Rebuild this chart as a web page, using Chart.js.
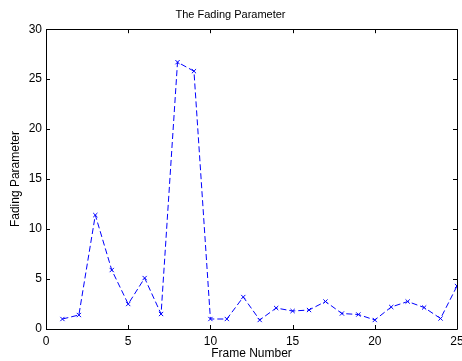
<!DOCTYPE html>
<html>
<head>
<meta charset="utf-8">
<script src="https://cdn.jsdelivr.net/npm/chart.js@4/dist/chart.umd.min.js"></script>
<style>
html,body{margin:0;padding:0;background:#fff;}
#wrap{width:462px;height:361px;}
</style>
</head>
<body>
<div id="wrap"><canvas id="c" width="462" height="361"></canvas></div>
<script>
const frameNumbers = [1,2,3,4,5,6,7,8,9,10,11,12,13,14,15,16,17,18,19,20,21,22,23,24,25];
const fadingValues = [1.0,1.4,11.4,5.9,2.5,5.1,1.5,26.7,25.8,1.0,1.0,3.2,0.9,2.1,1.8,1.9,2.75,1.55,1.45,0.9,2.2,2.75,2.15,1.05,4.3];
const xTicks = [0,5,10,15,20,25];
const yTicks = [0,5,10,15,20,25,30];

const FONT = "'Liberation Sans', Arial, sans-serif";

const boxTicks = {
  id: 'boxTicks',
  afterDraw(chart) {
    const ctx = chart.ctx, a = chart.chartArea;
    const xs = chart.scales.x, ys = chart.scales.y;
    ctx.save();
    ctx.strokeStyle = '#000';
    ctx.lineWidth = 1;
    ctx.beginPath();
    ctx.rect(Math.round(a.left)+0.5, Math.round(a.top)+0.5, Math.round(a.right-a.left), Math.round(a.bottom-a.top));
    ctx.stroke();
    const L = 4;
    ctx.beginPath();
    xTicks.forEach(v => {
      const px = Math.round(xs.getPixelForValue(v)) + 0.5;
      ctx.moveTo(px, a.bottom); ctx.lineTo(px, a.bottom - L);
      ctx.moveTo(px, a.top); ctx.lineTo(px, a.top + L);
    });
    yTicks.forEach(v => {
      const py = Math.round(ys.getPixelForValue(v)) + 0.5;
      ctx.moveTo(a.left, py); ctx.lineTo(a.left + L, py);
      ctx.moveTo(a.right, py); ctx.lineTo(a.right - L, py);
    });
    ctx.stroke();
    ctx.restore();
  }
};

new Chart(document.getElementById('c'), {
  type: 'line',
  data: {
    datasets: [{
      data: frameNumbers.map((x, i) => ({x: x, y: fadingValues[i]})),
      borderColor: '#0000ff',
      backgroundColor: '#0000ff',
      borderWidth: 1,
      borderDash: [6, 3],
      pointStyle: 'crossRot',
      pointRadius: 3,
      pointBorderColor: '#0000ff',
      pointBorderWidth: 1,
      tension: 0,
      fill: false
    }]
  },
  options: {
    responsive: false,
    animation: false,
    events: [],
    layout: { padding: { left: 0, right: 1, top: 0, bottom: 0 } },
    plugins: {
      legend: { display: false },
      tooltip: { enabled: false },
      title: {
        display: true,
        text: 'The Fading Parameter',
        color: '#000',
        font: { family: FONT, size: 11, weight: 'normal' },
        padding: { top: 8, bottom: 8 }
      }
    },
    scales: {
      x: {
        type: 'linear', min: 0, max: 25,
        afterBuildTicks: s => { s.ticks = xTicks.map(v => ({value: v})); },
        grid: { display: false, drawTicks: false },
        border: { display: false },
        ticks: { color: '#000', font: { family: FONT, size: 12 }, padding: 5, maxRotation: 0, autoSkip: false },
        title: { display: true, text: 'Frame Number', color: '#000', font: { family: FONT, size: 12 }, padding: { top: 2, bottom: 0 } },
        afterFit: s => { s.height = 32; s.paddingLeft = 0; s.paddingRight = 0; }
      },
      y: {
        type: 'linear', min: 0, max: 30,
        afterBuildTicks: s => { s.ticks = yTicks.map(v => ({value: v})); },
        grid: { display: false, drawTicks: false },
        border: { display: false },
        ticks: { color: '#000', font: { family: FONT, size: 12 }, padding: 4 },
        title: { display: true, text: 'Fading Parameter', color: '#000', font: { family: FONT, size: 12 }, padding: { top: 8, bottom: 4 } },
        afterFit: s => { s.width = 46; s.paddingTop = 0; s.paddingBottom = 0; }
      }
    }
  },
  plugins: [boxTicks]
});
</script>
</body>
</html>
